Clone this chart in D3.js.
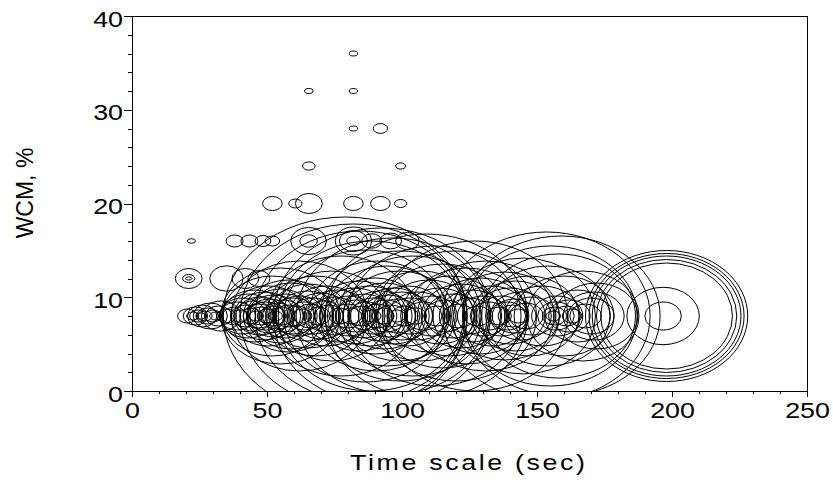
<!DOCTYPE html>
<html><head><meta charset="utf-8">
<script src="https://cdn.jsdelivr.net/npm/d3@7"></script>
<style>
body{margin:0;background:#fff}
text{font-family:"Liberation Sans",Arial,Helvetica,sans-serif;fill:#000}
</style>
</head><body>
<svg id="chart" width="833" height="485"></svg>
<script>
// ---- data ----
const xTickValues = [0, 50, 100, 150, 200, 250];
const yTickValues = [0, 10, 20, 30, 40];
const xTitle = "Time scale (sec)";
const yTitle = "WCM, %";

// bubbles grouped by WCM level: time scale (sec) and bubble size
const time36 = [82];
const size36 = [1.4];
const time32 = [65.5, 82];
const size32 = [1.4, 1.4];
const time28 = [82, 92];
const size28 = [1.4, 5.5];
const time24 = [65.5, 99.5];
const size24 = [3.9, 2.2];
const time20 = [52, 60.5, 65.5, 82, 92, 99.5];
const size20 = [11.3, 4.6, 23, 11.3, 11.3, 3.7];
const time16 = [22, 38, 43.5, 48.5, 52, 65.4, 65.4, 82, 82, 82, 88.8, 95.8, 102];
const size16 = [1.2, 8.3, 8.3, 6.9, 5.7, 42.5, 8.8, 45, 25.3, 4.6, 11.9, 14.3, 17];
const time12 = [21, 21, 21, 35, 42, 47];
const size12 = [23, 3.7, 0.6, 37, 23, 14.7];
const time8 = [
  20.5, 22.5, 23.5, 24.5, 25.5, 26, 27, 28, 29, 30, 31, 32, 33, 35,
  38, 39, 40, 41, 42, 43, 44, 45, 45.5, 46, 47, 47.5, 48, 49, 49.5, 50, 50.5, 51, 52, 52.5, 53, 54, 55, 55.5, 56, 57, 58, 59, 60,
  52, 55, 58, 62,
  61, 62, 63, 64, 65, 65.5, 66, 67, 68, 69, 70, 71, 72, 73, 74, 75, 76, 77, 77.5,
  79, 80, 80.5, 81, 82, 82.5, 83, 84, 84.5, 85, 86, 86.5, 87, 88, 88.5, 89, 89.5, 90, 90.5, 91, 92, 92.5, 93, 93.5, 94, 94.5, 95, 96, 96.5, 97, 98, 98.5, 99, 99.5, 100,
  101, 102, 103, 104, 105, 106, 107, 108, 109, 110, 111, 112, 113, 114, 115, 116, 118, 119, 120, 121, 122, 124, 125, 126, 127, 128, 129, 130, 131, 132, 133,
  136, 137, 138, 139, 140, 141, 141.5, 142, 143, 144, 145, 146, 147, 148,
  152, 153.5, 154, 155, 156, 156.5, 157, 157.5, 158, 159, 160, 161, 162, 163, 165, 167, 168, 170, 171, 172,
  196.7, 196.7, 198, 198, 198, 198, 198
];
const size8 = [
  11.3, 3.7, 18.6, 8.3, 2.1, 27.8, 5.7, 14.7, 38.8, 8.3, 3.7, 23, 51.7, 11.3,
  18.6, 45, 8.3, 74.4, 27.8, 111, 14.7, 51.7, 155, 5.7, 33, 82.9, 18.6, 132, 45, 11.3, 207, 66.4, 23, 101, 5.7, 38.8, 167, 18.6, 58.8, 111, 27.8, 250, 74.4,
  367, 529, 298, 695,
  23, 91.8, 11.3, 45, 143.5, 235, 33, 74.4, 367, 18.6, 121, 51.7, 207, 27.8, 465, 82.9, 155, 14.7, 826,
  2250, 33, 91.8, 14.7, 1943, 180, 58.8, 281, 1659, 23, 111, 1000, 45, 207, 1291, 8.3, 74.4, 332, 695, 33, 143.5, 1778, 14.7, 250, 58.8, 574, 101, 27.8, 1397, 180, 8.3, 66.4, 465, 970, 132,
  23, 207, 74.4, 826, 14.7, 132, 465, 45, 1544, 298, 91.8, 1125, 23, 180, 621, 58.8, 367, 111, 970, 33, 235, 529, 74.4, 155, 1291, 23, 332, 91.8, 695, 45, 207,
  18.6, 91.8, 445, 45, 180, 27.8, 66.4, 281, 11.3, 132, 772, 38.8, 367, 82.9,
  207, 1620, 574, 1125, 5.7, 18.6, 45, 91.8, 883, 1469, 367, 23, 58.8, 11.3, 155, 465, 33, 74.4, 132, 250,
  45, 189, 645, 733, 826, 897, 985
];

const levels = [
  [36, time36, size36], [32, time32, size32], [28, time28, size28], [24, time24, size24],
  [20, time20, size20], [16, time16, size16], [12, time12, size12], [8, time8, size8]
];
const bubbles = levels.flatMap(([w, ts, ss]) => ts.map((t, i) => ({time: t, wcm: w, size: ss[i]})));

// ---- layout ----
const svg = d3.select("#chart");
const mLeft = 132, mRight = 807, mTop = 16, mBottom = 391;
const x = d3.scaleLinear().domain([0, 250]).range([mLeft, mRight]);
const y = d3.scaleLinear().domain([0, 40]).range([mBottom, mTop]);
const r = d3.scaleSqrt().domain([0, 1000]).range([0, 66]);
const stretch = 1.22; // picture is horizontally stretched

svg.append("defs").append("clipPath").attr("id", "plot")
  .append("rect").attr("x", mLeft).attr("y", mTop).attr("width", mRight - mLeft).attr("height", mBottom - mTop);

svg.append("g").attr("clip-path", "url(#plot)")
  .selectAll("ellipse").data(bubbles).join("ellipse")
  .attr("cx", d => x(d.time))
  .attr("cy", d => y(d.wcm))
  .attr("rx", d => r(d.size) * stretch + 1.2)
  .attr("ry", d => r(d.size))
  .attr("fill", "none")
  .attr("stroke", "#000")
  .attr("stroke-width", 1);

// frame
svg.append("rect").attr("x", mLeft).attr("y", mTop).attr("width", mRight - mLeft).attr("height", mBottom - mTop)
  .attr("fill", "none").attr("stroke", "#000").attr("stroke-width", 1).attr("shape-rendering", "crispEdges");

// minor ticks
svg.append("g").attr("transform", `translate(0,${mBottom})`)
  .call(d3.axisBottom(x).tickValues(d3.range(0, 251, 10)).tickSize(3).tickFormat(""))
  .call(g => g.select(".domain").remove())
  .selectAll("line").attr("shape-rendering", "crispEdges");
svg.append("g").attr("transform", `translate(${mLeft},0)`)
  .call(d3.axisLeft(y).tickValues(d3.range(0, 41, 2)).tickSize(4).tickFormat(""))
  .call(g => g.select(".domain").remove())
  .selectAll("line").attr("shape-rendering", "crispEdges");

// major ticks + labels
const xAxis = svg.append("g").attr("transform", `translate(0,${mBottom})`)
  .call(d3.axisBottom(x).tickValues(xTickValues).tickSize(6).tickFormat(d3.format("d")));
xAxis.select(".domain").remove();
xAxis.selectAll("line").attr("shape-rendering", "crispEdges");
xAxis.selectAll("text").attr("font-size", 22).attr("font-family", null)
  .attr("y", 27).attr("dy", null).attr("transform", `scale(${stretch},1)`);

const yAxis = svg.append("g").attr("transform", `translate(${mLeft},0)`)
  .call(d3.axisLeft(y).tickValues(yTickValues).tickSize(8).tickFormat(d3.format("d")));
yAxis.select(".domain").remove();
yAxis.selectAll("line").attr("shape-rendering", "crispEdges");
yAxis.selectAll("text").attr("font-size", 22).attr("font-family", null)
  .attr("x", 0).attr("y", 0).attr("dy", null)
  .attr("transform", `translate(-9,10) scale(${stretch},1)`);

// titles
svg.append("text")
  .attr("transform", `translate(${(mLeft + mRight) / 2 - 2},470) scale(${stretch},1)`)
  .attr("text-anchor", "middle").attr("font-size", 22)
  .attr("textLength", 235 / stretch).attr("lengthAdjust", "spacing")
  .text(xTitle);
svg.append("text").attr("transform", "translate(33,193) rotate(-90)")
  .attr("text-anchor", "middle").attr("font-size", 23)
  .text(yTitle);
</script>
</body></html>
